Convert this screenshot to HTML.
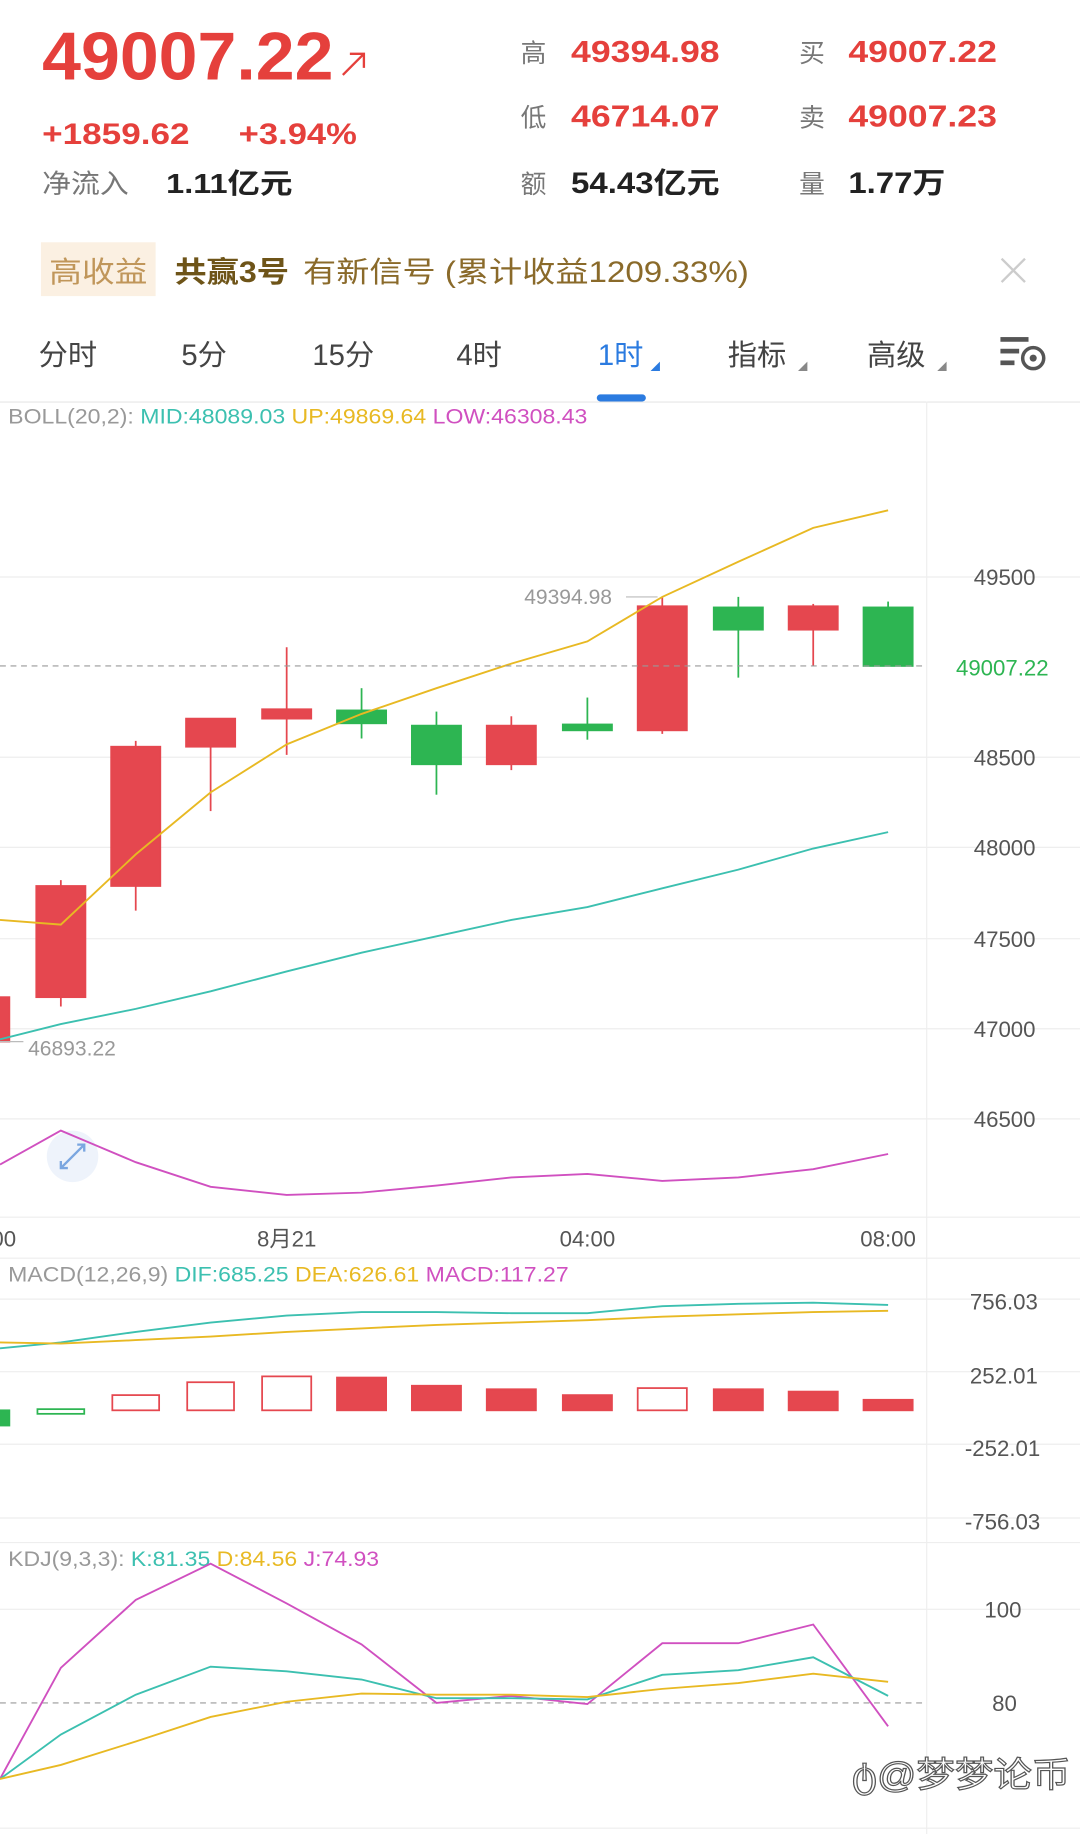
<!DOCTYPE html>
<html><head><meta charset="utf-8"><style>
html,body{margin:0;padding:0;background:#fff;}
svg{display:block;}
text{font-family:"Liberation Sans","Noto Sans CJK SC",sans-serif;}
</style></head><body>
<svg width="1080" height="1834" viewBox="0 0 923 1567" preserveAspectRatio="none" xmlns="http://www.w3.org/2000/svg">
<rect width="923" height="1567" fill="#fff"/>
<!-- header -->
<text x="36" y="68" font-size="58" font-weight="bold" fill="#e5403c" textLength="249" lengthAdjust="spacingAndGlyphs">49007.22</text>
<path d="M293 64 L311 46 M299 46 L311 46 L311 58" stroke="#e5403c" stroke-width="2" fill="none"/>
<text x="36" y="123" font-size="25" font-weight="bold" fill="#e5403c" textLength="126" lengthAdjust="spacingAndGlyphs">+1859.62</text>
<text x="204" y="123" font-size="25" font-weight="bold" fill="#e5403c" textLength="101" lengthAdjust="spacingAndGlyphs">+3.94%</text>
<text x="36" y="165" font-size="23" fill="#777" textLength="74" lengthAdjust="spacingAndGlyphs">净流入</text>
<text x="142" y="165" font-size="24" font-weight="bold" fill="#222" textLength="108" lengthAdjust="spacingAndGlyphs">1.11亿元</text>
<g font-size="22" fill="#777">
<text x="445" y="53">高</text><text x="683" y="53">买</text>
<text x="445" y="108">低</text><text x="683" y="108">卖</text>
<text x="445" y="165">额</text><text x="683" y="165">量</text></g>
<g font-size="26" font-weight="bold" fill="#e5403c">
<text x="488" y="53" textLength="127" lengthAdjust="spacingAndGlyphs">49394.98</text><text x="725" y="53" textLength="127" lengthAdjust="spacingAndGlyphs">49007.22</text>
<text x="488" y="108" textLength="127" lengthAdjust="spacingAndGlyphs">46714.07</text><text x="725" y="108" textLength="127" lengthAdjust="spacingAndGlyphs">49007.23</text></g>
<g font-size="25" font-weight="bold" fill="#222">
<text x="488" y="165" textLength="127" lengthAdjust="spacingAndGlyphs">54.43亿元</text><text x="725" y="165" textLength="83" lengthAdjust="spacingAndGlyphs">1.77万</text></g>
<!-- banner -->
<rect x="35" y="207" width="98" height="46" fill="#fbf0e2"/>
<text x="42" y="241" font-size="25" fill="#c0965a" textLength="84" lengthAdjust="spacingAndGlyphs">高收益</text>
<text x="149" y="241" font-size="25" font-weight="bold" fill="#6e5418" textLength="98" lengthAdjust="spacingAndGlyphs">共赢3号</text>
<text x="259" y="241" font-size="25" fill="#8a6a2a" textLength="381" lengthAdjust="spacingAndGlyphs">有新信号 (累计收益1209.33%)</text>
<path d="M856 221 L876 241 M876 221 L856 241" stroke="#ccc" stroke-width="2"/>
<!-- tabs -->
<g font-size="25" fill="#444">
<text x="33" y="312">分时</text><text x="155" y="312">5分</text><text x="267" y="312">15分</text>
<text x="390" y="312">4时</text><text x="511" y="312" fill="#2b7be0">1时</text>
<text x="622" y="312">指标</text><text x="741" y="312">高级</text></g>
<path d="M556 317 L564 309 L564 317Z" fill="#2b7be0"/>
<path d="M682 317 L690 309 L690 317Z" fill="#888"/>
<path d="M801 317 L809 309 L809 317Z" fill="#888"/>
<rect x="855" y="288" width="24" height="4" fill="#555"/><rect x="855" y="298" width="16" height="4" fill="#555"/><rect x="855" y="308" width="12" height="4" fill="#555"/>
<circle cx="883" cy="306" r="9" fill="none" stroke="#555" stroke-width="3"/><circle cx="883" cy="306" r="3" fill="#555"/>
<rect x="510" y="337" width="42" height="6" rx="3" fill="#2b7be0"/>
<line x1="0" y1="343.5" x2="923" y2="343.5" stroke="#e6e6e6"/>
<!-- grids -->
<g stroke="#eeeeee" stroke-width="1">
<line x1="0" y1="493" x2="923" y2="493"/>
<line x1="0" y1="647" x2="923" y2="647"/><line x1="0" y1="724" x2="923" y2="724"/>
<line x1="0" y1="802" x2="923" y2="802"/><line x1="0" y1="879" x2="923" y2="879"/>
<line x1="0" y1="956" x2="923" y2="956"/>
<line x1="0" y1="1040" x2="923" y2="1040"/><line x1="0" y1="1075" x2="923" y2="1075"/>
<line x1="0" y1="1110" x2="923" y2="1110"/><line x1="0" y1="1172" x2="923" y2="1172"/>
<line x1="0" y1="1234" x2="923" y2="1234"/><line x1="0" y1="1297" x2="923" y2="1297"/>
<line x1="0" y1="1318" x2="923" y2="1318"/><line x1="0" y1="1375" x2="923" y2="1375"/>
<line x1="0" y1="1562" x2="923" y2="1562"/>
<line x1="792" y1="343" x2="792" y2="1567"/></g>
<text x="7" y="362" font-size="18" fill="#999" textLength="495" lengthAdjust="spacingAndGlyphs">BOLL(20,2): <tspan fill="#3cc0b0">MID:48089.03 </tspan><tspan fill="#e8b923">UP:49869.64 </tspan><tspan fill="#d050c0">LOW:46308.43</tspan></text>
<g font-size="19" fill="#555" text-anchor="end">
<text x="885" y="500">49500</text><text x="885" y="654">48500</text><text x="885" y="731">48000</text>
<text x="885" y="809">47500</text><text x="885" y="886">47000</text><text x="885" y="963">46500</text>
<text x="887" y="1119">756.03</text><text x="887" y="1182">252.01</text><text x="889" y="1244">-252.01</text><text x="889" y="1307">-756.03</text>
<text x="873" y="1382">100</text><text x="869" y="1462">80</text></g>
<circle cx="62" cy="988" r="22" fill="#eef3fb"/>
<path d="M52 998 L72 978 M66 978 L72 978 L72 984 M52 992 L52 998 L58 998" stroke="#7aa6e0" stroke-width="2" fill="none"/>
<!-- candles -->
<g stroke-width="1.5">
<g stroke="#e5474f" fill="#e5474f">
<rect x="-34" y="852" width="42" height="38"/>
<line x1="52" y1="752" x2="52" y2="860"/><rect x="31" y="757" width="42" height="95"/>
<line x1="116" y1="633" x2="116" y2="778"/><rect x="95" y="638" width="42" height="119"/>
<line x1="180" y1="614" x2="180" y2="693"/><rect x="159" y="614" width="42" height="24"/>
<line x1="245" y1="553" x2="245" y2="645"/><rect x="224" y="606" width="42" height="8"/>
<line x1="437" y1="612" x2="437" y2="658"/><rect x="416" y="620" width="42" height="33"/>
<line x1="566" y1="510" x2="566" y2="627"/><rect x="545" y="518" width="42" height="106"/>
<line x1="695" y1="516" x2="695" y2="569"/><rect x="674" y="518" width="42" height="20"/></g>
<g stroke="#2db552" fill="#2db552">
<line x1="309" y1="588" x2="309" y2="631"/><rect x="288" y="607" width="42" height="11"/>
<line x1="373" y1="608" x2="373" y2="679"/><rect x="352" y="620" width="42" height="33"/>
<line x1="502" y1="596" x2="502" y2="632"/><rect x="481" y="619" width="42" height="5"/>
<line x1="631" y1="510" x2="631" y2="579"/><rect x="610" y="519" width="42" height="19"/>
<line x1="759" y1="514" x2="759" y2="569"/><rect x="738" y="519" width="42" height="50"/></g></g>
<g fill="none" stroke-width="1.6">
<polyline stroke="#e8b923" points="0,786 52,790 116,730 180,677 245,636 309,610 373,588 437,567 502,548 566,510 631,480 695,451 759,436"/>
<polyline stroke="#3cc0b0" points="0,888 52,875 116,862 180,847 245,830 309,814 373,800 437,786 502,775 566,759 631,743 695,725 759,711"/>
<polyline stroke="#d050c0" points="0,995 52,966 116,993 180,1014 245,1021 309,1019 373,1013 437,1006 502,1003 566,1009 631,1006 695,999 759,986"/></g>
<line x1="0" y1="569" x2="792" y2="569" stroke="#999" stroke-dasharray="5,4"/>
<rect x="795" y="557" width="110" height="24" fill="#fff"/>
<text x="817" y="577" font-size="19" fill="#2db552">49007.22</text>
<text x="448" y="516" font-size="18" fill="#999">49394.98</text>
<line x1="535" y1="510" x2="562" y2="510" stroke="#bbb"/>
<text x="24" y="902" font-size="18" fill="#999">46893.22</text>
<line x1="0" y1="890" x2="20" y2="890" stroke="#bbb"/>
<!-- time axis -->
<g font-size="19" fill="#555" text-anchor="middle">
<text x="-10" y="1065">00:00</text><text x="245" y="1065">8月21</text><text x="502" y="1065">04:00</text><text x="759" y="1065">08:00</text></g>
<!-- MACD -->
<text x="7" y="1095" font-size="18" fill="#999" textLength="479" lengthAdjust="spacingAndGlyphs">MACD(12,26,9) <tspan fill="#3cc0b0">DIF:685.25 </tspan><tspan fill="#e8b923">DEA:626.61 </tspan><tspan fill="#d050c0">MACD:117.27</tspan></text>
<g stroke-width="1.5">
<rect x="-34" y="1205" width="42" height="13" fill="#2db552" stroke="#2db552"/>
<rect x="32" y="1204" width="40" height="4" fill="none" stroke="#2db552"/>
<g fill="none" stroke="#e5474f">
<rect x="96" y="1192" width="40" height="13"/><rect x="160" y="1181" width="40" height="24"/>
<rect x="224" y="1176" width="42" height="29"/><rect x="545" y="1186" width="42" height="19"/></g>
<g fill="#e5474f" stroke="#e5474f">
<rect x="288" y="1177" width="42" height="28"/><rect x="352" y="1184" width="42" height="21"/>
<rect x="416" y="1187" width="42" height="18"/><rect x="481" y="1192" width="42" height="13"/>
<rect x="610" y="1187" width="42" height="18"/><rect x="674" y="1189" width="42" height="16"/>
<rect x="738" y="1196" width="42" height="9"/></g></g>
<g fill="none" stroke-width="1.6">
<polyline stroke="#3cc0b0" points="0,1152 52,1147 116,1138 180,1130 245,1124 309,1121 373,1121 437,1122 502,1122 566,1116 631,1114 695,1113 759,1115"/>
<polyline stroke="#e8b923" points="0,1147 52,1148 116,1145 180,1142 245,1138 309,1135 373,1132 437,1130 502,1128 566,1125 631,1123 695,1121 759,1120"/></g>
<!-- KDJ -->
<text x="7" y="1338" font-size="18" fill="#999" textLength="317" lengthAdjust="spacingAndGlyphs">KDJ(9,3,3): <tspan fill="#3cc0b0">K:81.35 </tspan><tspan fill="#e8b923">D:84.56 </tspan><tspan fill="#d050c0">J:74.93</tspan></text>
<line x1="0" y1="1455" x2="792" y2="1455" stroke="#999" stroke-dasharray="5,4"/>
<g fill="none" stroke-width="1.6">
<polyline stroke="#d050c0" points="0,1520 52,1425 116,1367 180,1336 245,1370 309,1405 373,1455 437,1449 502,1456 566,1404 631,1404 695,1388 759,1475"/>
<polyline stroke="#3cc0b0" points="0,1520 52,1482 116,1448 180,1424 245,1428 309,1435 373,1451 437,1451 502,1452 566,1431 631,1427 695,1416 759,1449"/>
<polyline stroke="#e8b923" points="0,1520 52,1508 116,1488 180,1467 245,1454 309,1447 373,1448 437,1448 502,1450 566,1443 631,1438 695,1430 759,1437"/></g>
<text x="728" y="1527" font-size="30" fill="#fff" stroke="#555" stroke-width="1" textLength="187" lengthAdjust="spacingAndGlyphs">ტ@梦梦论币</text>
</svg>
</body></html>
